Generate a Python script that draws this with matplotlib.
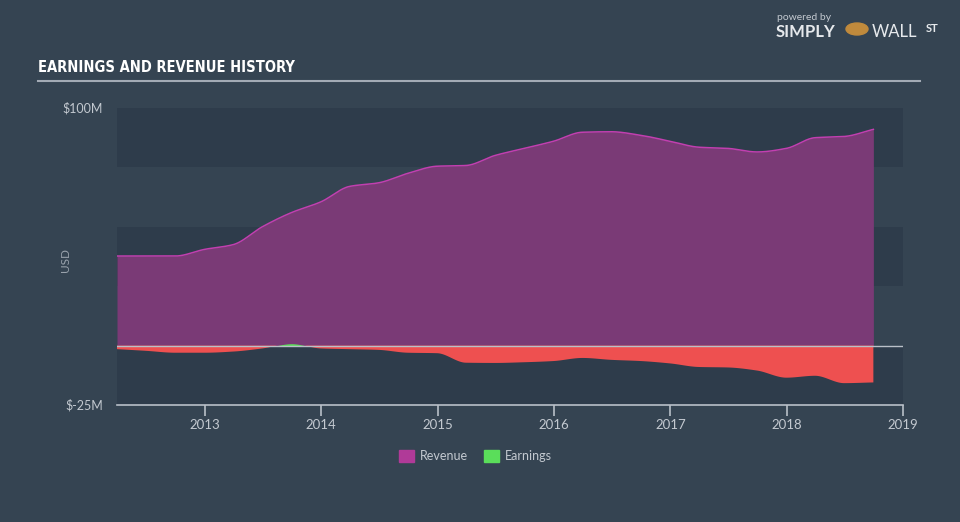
import numpy as np
import pandas as pd
import matplotlib
matplotlib.use("Agg")
import matplotlib.pyplot as plt
import matplotlib.dates as mdates
from matplotlib.patches import Rectangle
from matplotlib import font_manager

# quarterly TTM figures, USD millions
quarters = pd.date_range("2012-03-31", periods=27, freq="QE")
revenue = [37.7, 37.7, 37.7, 40.5, 42.5, 50.0, 56.0, 60.5, 67.0, 68.5,
           72.5, 75.5, 75.8, 80.0, 83.0, 86.0, 89.8, 90.0, 88.5, 86.0,
           83.5, 83.0, 81.5, 83.0, 87.5, 88.0, 91.0]
earnings = [-1.5, -2.2, -3.0, -3.0, -2.5, -1.2, 0.8, -1.2, -1.5, -1.8,
            -3.0, -3.2, -7.2, -7.3, -7.0, -6.5, -5.2, -6.0, -6.5, -7.5,
            -9.0, -9.2, -10.5, -13.5, -12.7, -15.8, -15.5]
year_ticks = [2013, 2014, 2015, 2016, 2017, 2018, 2019]

BG = "#354452"
BAND = "#2e3c4b"
GRID_TXT = "#c3c9d0"

names = {f.name for f in font_manager.fontManager.ttflist}
print(sorted(n for n in names if "Narrow" in n or "Condensed" in n or "Liberation" in n or "DejaVu" in n))


def pchip(x, y, xs):
    # monotone cubic interpolation so the curves look smooth like the original
    x = np.asarray(x, float)
    y = np.asarray(y, float)
    h = np.diff(x)
    d = np.diff(y) / h
    m = np.zeros_like(y)
    for k in range(1, len(y) - 1):
        if d[k - 1] * d[k] > 0:
            w1 = 2 * h[k] + h[k - 1]
            w2 = h[k] + 2 * h[k - 1]
            m[k] = (w1 + w2) / (w1 / d[k - 1] + w2 / d[k])
    m[0], m[-1] = d[0], d[-1]
    idx = np.clip(np.searchsorted(x, xs) - 1, 0, len(x) - 2)
    t = (xs - x[idx]) / h[idx]
    h00 = 2 * t**3 - 3 * t**2 + 1
    h10 = t**3 - 2 * t**2 + t
    h01 = -2 * t**3 + 3 * t**2
    h11 = t**3 - t**2
    return h00 * y[idx] + h10 * h[idx] * m[idx] + h01 * y[idx + 1] + h11 * h[idx] * m[idx + 1]


xq = mdates.date2num(quarters.to_pydatetime())
xs = np.linspace(xq[0], xq[-1], 800)
rev_s = pchip(xq, revenue, xs)
earn_s = pchip(xq, earnings, xs)

fig = plt.figure(figsize=(9.6, 5.22), dpi=100, facecolor=BG)
ax = fig.add_axes([117 / 960, 1 - 405 / 522, (903 - 117) / 960, (405 - 108) / 522])
ax.set_facecolor(BG)

# alternating horizontal bands
for lo, hi in [(75, 100), (25, 50), (-25, 0)]:
    ax.axhspan(lo, hi, color=BAND, lw=0, zorder=0)

ax.fill_between(xs, 0, rev_s, color="#7a3a76", lw=0, zorder=2)
ax.plot(xs, rev_s, color="#c23fb0", lw=1.1, zorder=3)
ax.fill_between(xs, 0, earn_s, where=earn_s <= 0, interpolate=True,
                color="#ee5050", lw=0, zorder=4)
ax.fill_between(xs, 0, earn_s, where=earn_s >= 0, interpolate=True,
                color="#5ade5a", lw=0, zorder=4)
ax.axhline(0, color="#b9c0c8", lw=1, zorder=5)

ax.set_ylim(-25, 100)
ax.set_xlim(xq[0], mdates.date2num(pd.Timestamp("2019-01-01")))

for s in ["top", "right", "left"]:
    ax.spines[s].set_visible(False)
ax.spines["bottom"].set_color("#b9c0c8")
ax.spines["bottom"].set_linewidth(1.2)

ticks = [mdates.date2num(pd.Timestamp(f"{y}-01-01")) for y in year_ticks]
ax.set_xticks(ticks)
ax.set_xticklabels([str(y) for y in year_ticks], fontsize=9.5, color=GRID_TXT, family="Lato")
ax.tick_params(axis="x", length=8, width=1.2, color="#b9c0c8", pad=2)
ax.set_yticks([])

fig.text(103 / 960, 1 - 108 / 522, "$100M", ha="right", va="center",
         fontsize=9, color=GRID_TXT, family="Lato")
fig.text(103 / 960, 1 - 405 / 522, "$-25M", ha="right", va="center",
         fontsize=9, color=GRID_TXT, family="Lato")
fig.text(65 / 960, 1 - 260 / 522, "USD", rotation=90, ha="center", va="center",
         fontsize=8.5, color="#9aa3ad", family="Lato")

# title + rule
fig.text(38 / 960, 1 - 68 / 522, "EARNINGS AND REVENUE HISTORY", ha="left", va="center",
         fontsize=10.5, color="white", weight="bold", family="DejaVu Sans",
         stretch="condensed")
fig.add_artist(plt.Line2D([38 / 960, 920 / 960], [1 - 81 / 522] * 2, color="#a3abb5", lw=1.5))

# legend
for sx, col, lab in [(399, "#b03a98", "Revenue"), (484, "#5ade5a", "Earnings")]:
    fig.add_artist(Rectangle((sx / 960, 1 - 462 / 522), 15 / 960, 12 / 522,
                             color=col, transform=fig.transFigure))
    fig.text((sx + 21) / 960, 1 - 456 / 522, lab, ha="left", va="center",
             fontsize=9, color=GRID_TXT, family="Lato")

# logo text
fig.text(777 / 960, 1 - 17 / 522, "powered by", fontsize=7.5, color="#c3c9d0",
         ha="left", va="center", family="Lato")
fig.text(776 / 960, 1 - 32 / 522, "SIMPLY", fontsize=12, color="#e6e9ec",
         weight="bold", ha="left", va="center", family="Lato")
fig.add_artist(plt.Circle((857 / 960, 1 - 29 / 522), 11 / 960, color="#c08a3c",
                          transform=fig.transFigure))
fig.text(872 / 960, 1 - 32 / 522, "WALL", fontsize=12, color="#e6e9ec",
         ha="left", va="center", family="Lato")
fig.text(926 / 960, 1 - 29 / 522, "ST", fontsize=8, color="#e6e9ec", weight="bold",
         ha="left", va="center", family="Lato")

fig.savefig("out.png", dpi=100, facecolor=BG)
